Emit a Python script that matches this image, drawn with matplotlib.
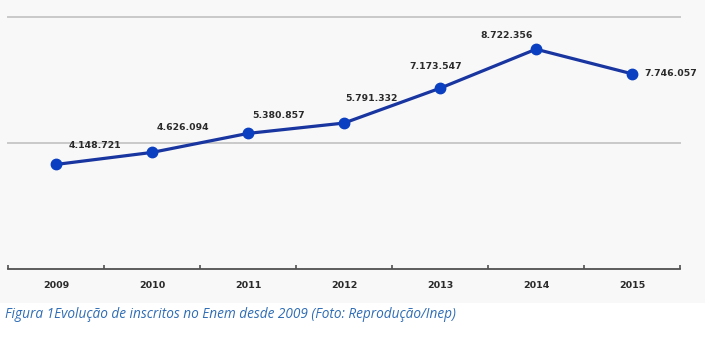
import matplotlib
matplotlib.use("Agg")
import matplotlib.pyplot as plt
from matplotlib.patches import Rectangle
from matplotlib.ticker import FixedLocator

# Inscritos no Enem por ano
anos = ["2009", "2010", "2011", "2012", "2013", "2014", "2015"]
inscritos = [4148721, 4626094, 5380857, 5791332, 7173547, 8722356, 7746057]
rotulos = ["4.148.721", "4.626.094", "5.380.857", "5.791.332",
           "7.173.547", "8.722.356", "7.746.057"]

# offsets (points) for each value label relative to its marker
label_offsets = [(28, 14), (22, 18), (22, 13), (20, 18), (-3, 16), (-21, 10), (9, 0)]
label_align = ["center", "center", "center", "center", "center", "center", "left"]

fig = plt.figure(figsize=(7.2, 3.37), dpi=100)
fig.patch.set_facecolor("white")

# light panel behind the chart
fig.add_artist(Rectangle((0, 1 - 303 / 337), 705 / 720, 303 / 337,
                         transform=fig.transFigure, facecolor="#f8f8f8",
                         edgecolor="none", zorder=0))

ax = fig.add_axes([8 / 720, 1 - 269 / 337, 672 / 720, 252 / 337])
ax.set_facecolor("none")

x = list(range(len(anos)))
ax.set_xlim(-0.5, len(anos) - 0.5)
ax.set_ylim(0, 10_000_000)

for g in (5_000_000, 10_000_000):
    ax.axhline(g, color="#c9c9c9", lw=1.4, zorder=1, clip_on=False)

ax.plot(x, inscritos, color="#1835a0", lw=2.3, marker="o", markersize=7.5,
        markerfacecolor="#0b3fc2", markeredgecolor="#0b3fc2", zorder=3,
        clip_on=False)

for xi, v, txt, off, ha in zip(x, inscritos, rotulos, label_offsets, label_align):
    ax.annotate(txt, (xi, v), xytext=off, textcoords="offset points",
                ha=ha, va="center", fontsize=6.7, fontweight="bold",
                color="#2a2a2a", zorder=4)

for side in ("top", "right", "left"):
    ax.spines[side].set_visible(False)
ax.spines["bottom"].set_color("#505050")
ax.spines["bottom"].set_linewidth(1.3)

ax.set_yticks([])
ax.set_xticks(x)
ax.set_xticklabels(anos, fontsize=6.8, fontweight="bold", color="#2a2a2a")
ax.tick_params(axis="x", which="major", length=0, pad=9)
ax.xaxis.set_minor_locator(FixedLocator([i - 0.5 for i in range(len(anos) + 1)]))
ax.tick_params(axis="x", which="minor", direction="in", length=3,
               width=1.2, color="#505050")

fig.text(5 / 720, 1 - 314 / 337,
         "Figura 1Evolução de inscritos no Enem desde 2009 (Foto: Reprodução/Inep)",
         fontsize=9.8, style="italic", color="#2f6db5", family="Open Sans",
         ha="left", va="center")

fig.savefig("out.png", dpi=100)
